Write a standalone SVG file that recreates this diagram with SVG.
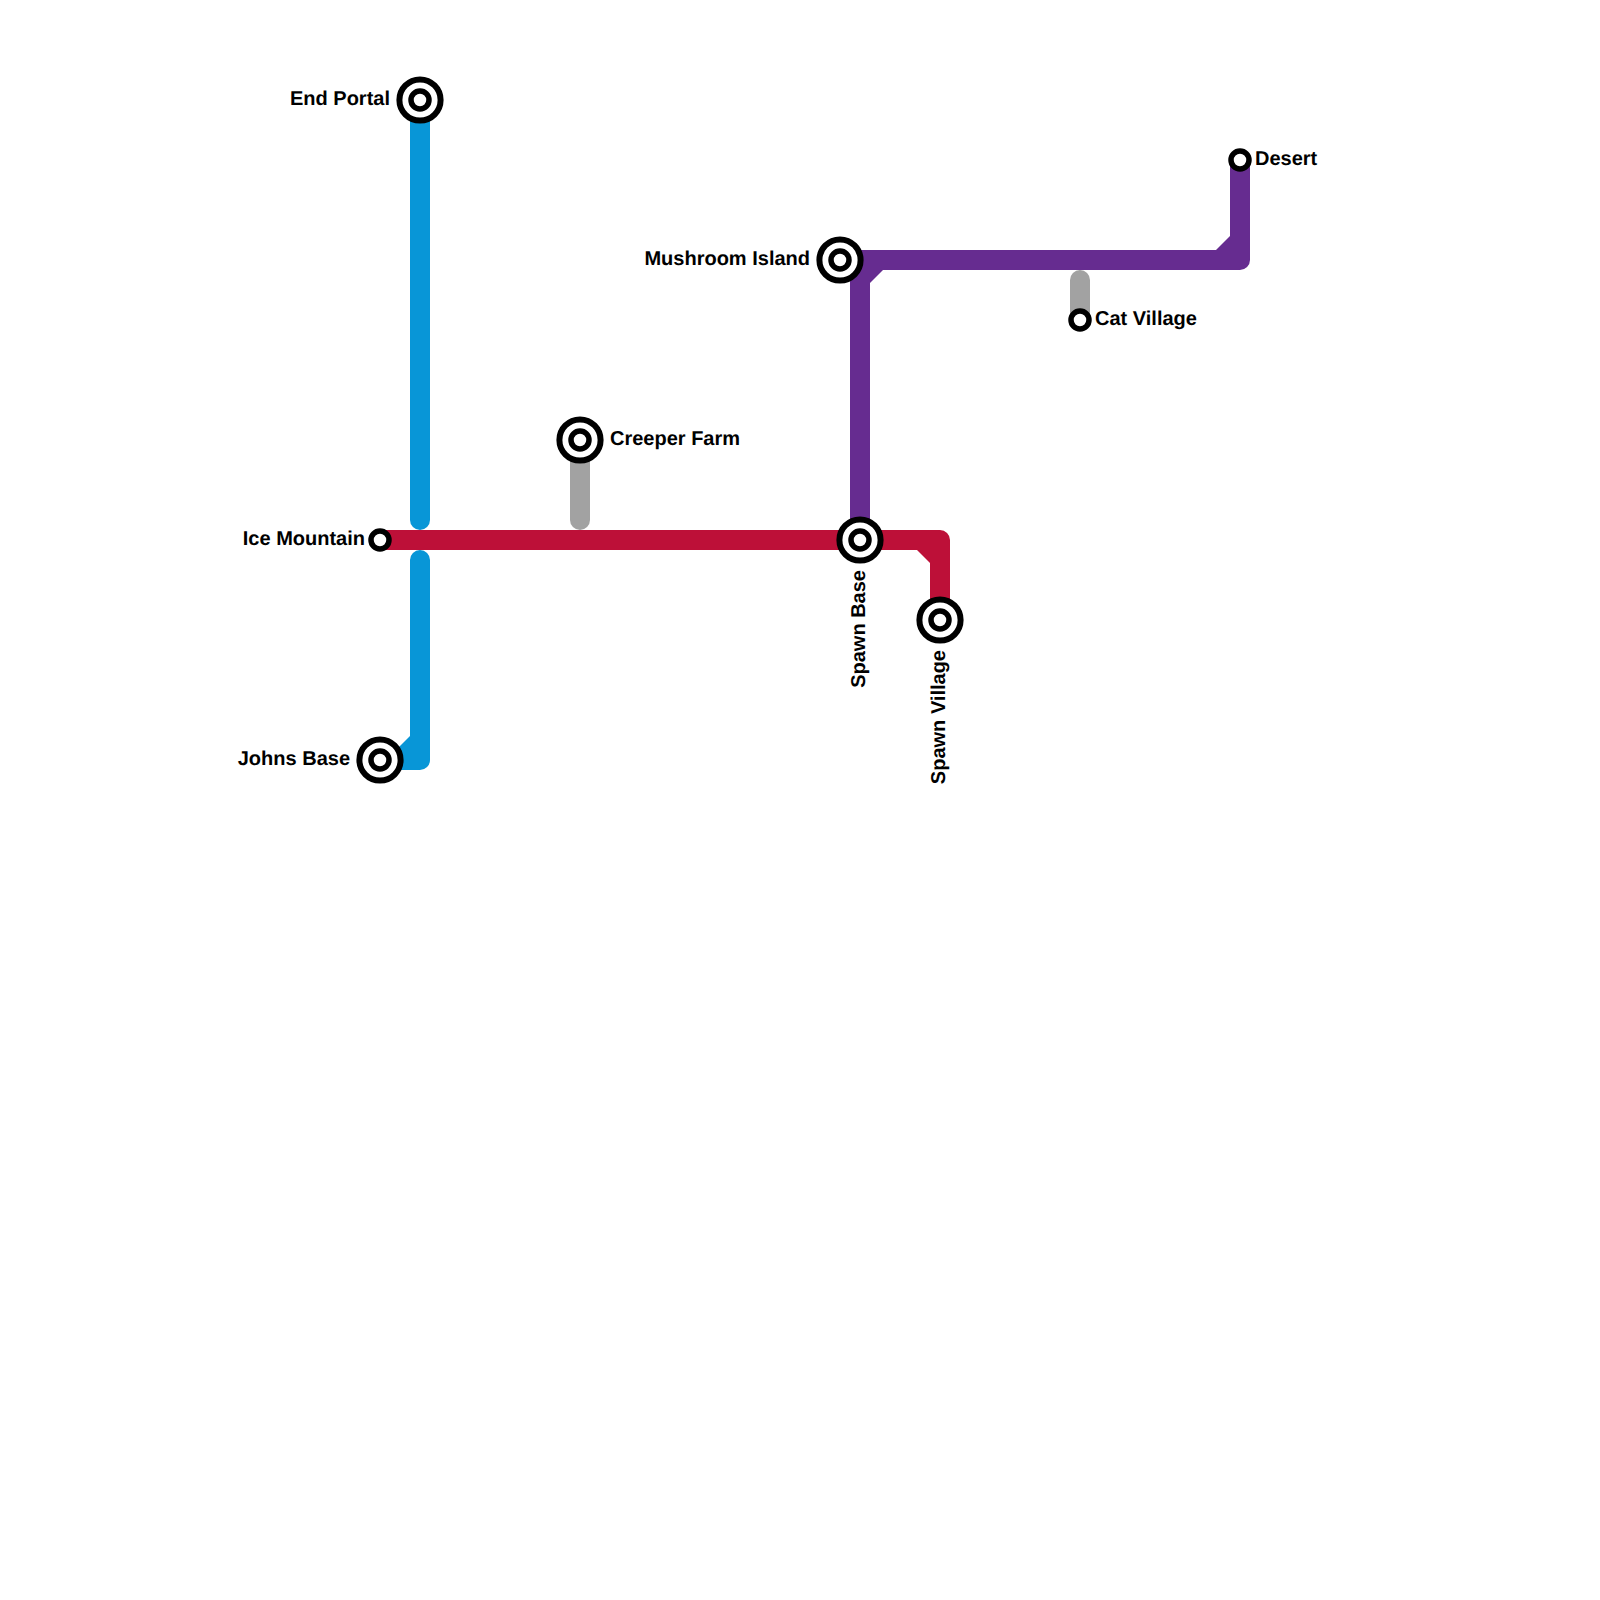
<svg xmlns="http://www.w3.org/2000/svg" width="1600" height="1600" viewBox="0 0 1600 1600">
<style>
.line{fill:none;stroke-width:20;stroke-linecap:round;stroke-linejoin:round}
.blue{stroke:#0896d7}.bluef{fill:#0896d7}
.red{stroke:#bd1038}.redf{fill:#bd1038}
.purple{stroke:#662c90}.purplef{fill:#662c90}
.grey{stroke:#a2a2a2}
.ring{fill:#fff;stroke:#000}
.r1{stroke-width:6}.r2{stroke-width:5.5}
text{font-family:"Liberation Sans",Arial,sans-serif;font-weight:700;font-size:20px;fill:#000;text-rendering:geometricPrecision}
</style>
<defs>
<g id="major"><circle class="ring r1" r="20.6"/><circle class="ring r2" r="9"/></g>
<circle id="minor" class="ring r2" r="9"/>
</defs>
<rect width="1600" height="1600" fill="#fff"/>
<g id="connectors">
<path class="line grey" d="M580 440V520"/>
<path class="line grey" d="M1080 280V320"/>
<path class="line blue" d="M420 100V520"/>
<path class="line blue" d="M420 560V760H380"/>
<path class="bluef" d="M410 736L396 750H410Z"/>
<path class="line red" d="M380 540H940V620"/>
<path class="redf" d="M917 550L930 563V550Z"/>
<path class="line purple" d="M860 540V260"/>
<path class="line purple" d="M840 260H1240V160"/>
<path class="purplef" d="M883 270L870 283V270Z"/>
<path class="purplef" d="M1230 236L1216 250H1230Z"/>
</g>
<g id="end-portal"><use href="#major" x="420" y="100"/><text x="390" y="105" text-anchor="end">End Portal</text></g>
<g id="johns-base"><use href="#major" x="380" y="760"/><text x="350" y="765" text-anchor="end">Johns Base</text></g>
<g id="ice-mountain"><use href="#minor" x="380" y="540"/><text x="365" y="545" text-anchor="end">Ice Mountain</text></g>
<g id="creeper-farm"><use href="#major" x="580" y="440"/><text x="610" y="445">Creeper Farm</text></g>
<g id="spawn-base"><use href="#major" x="860" y="540"/><text transform="translate(864.5 570) rotate(-90)" text-anchor="end">Spawn Base</text></g>
<g id="spawn-village"><use href="#major" x="940" y="620"/><text transform="translate(944.5 650) rotate(-90)" text-anchor="end">Spawn Village</text></g>
<g id="mushroom-island"><use href="#major" x="840" y="260"/><text x="810" y="265" text-anchor="end">Mushroom Island</text></g>
<g id="desert"><use href="#minor" x="1240" y="160"/><text x="1255" y="165">Desert</text></g>
<g id="cat-village"><use href="#minor" x="1080" y="320"/><text x="1095" y="325">Cat Village</text></g>
</svg>
